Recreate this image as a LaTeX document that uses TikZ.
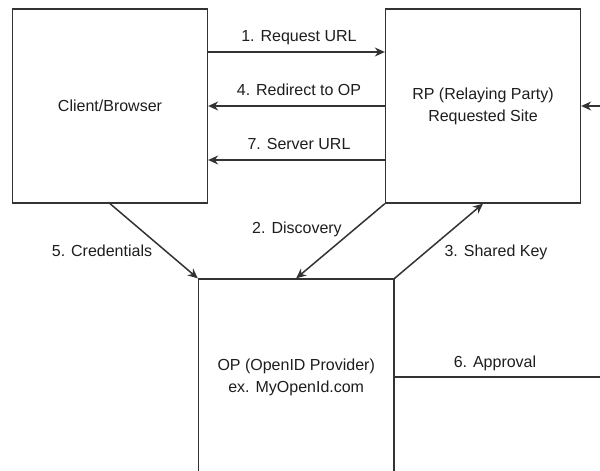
\documentclass[tikz,border=0pt]{standalone}
\usepackage{fontspec}
\setmainfont{Liberation Sans}
\usetikzlibrary{arrows.meta}
\definecolor{linegray}{HTML}{333333}
\definecolor{textgray}{HTML}{1E1E1E}
\begin{document}
\begin{tikzpicture}[x=1pt,y=-1pt,
  box/.style={draw=linegray, line width=1.3pt, inner sep=0pt, align=center,
    text=textgray, font=\fontsize{16}{22}\selectfont},
  lbl/.style={anchor=base, inner sep=0pt, text=textgray, font=\fontsize{16}{22}\selectfont},
  arr/.style={draw=linegray, line width=1.5pt, -{Stealth[length=10pt,width=9pt]}},
  plain/.style={draw=linegray, line width=1.4pt}]
\useasboundingbox (0,0) rectangle (600,471);
\clip (0,0) rectangle (600,471);
\fill[white] (0,0) rectangle (600,471);
% boxes
\node[box, minimum width=195pt, minimum height=194pt] (client) at (110,106) {Client/Browser};
\node[box, minimum width=195pt, minimum height=194pt] (rp) at (483,106) {RP (Relaying Party)\\Requested Site};
\node[box, minimum width=195.5pt, minimum height=196pt] (op) at (296.2,377) {OP (OpenID Provider)\\ex. MyOpenId.com};
% free ends
\coordinate (rin) at (612,106);
\coordinate (apend) at (612,377);
% horizontal arrows
\draw[arr] ([yshift=54pt]client.east) -- ([yshift=54pt]rp.west);
\draw[arr] (rp.west) -- (client.east);
\draw[arr] ([yshift=-54pt]rp.west) -- ([yshift=-54pt]client.east);
\draw[arr] (rin) -- (rp.east);
% diagonal arrows
\draw[arr] (client.south) -- (op.north west);
\draw[arr] (rp.south west) -- (op.north);
\draw[arr] (op.north east) -- (rp.south);
% approval line
\draw[plain] (op.east) -- (op.east -| apend);
% labels
\node[lbl] (l1) at (299,41.7) {1. Request URL};
\node[lbl] (l4) at (299,95.8) {4. Redirect to OP};
\node[lbl] (l7) at (299,149.5) {7. Server URL};
\node[lbl] (l5) at (102,256) {5. Credentials};
\node[lbl] (l2) at (297,233) {2. Discovery};
\node[lbl] (l3) at (496,256) {3. Shared Key};
\node[lbl] (l6) at (495,367) {6. Approval};
\end{tikzpicture}
\end{document}
